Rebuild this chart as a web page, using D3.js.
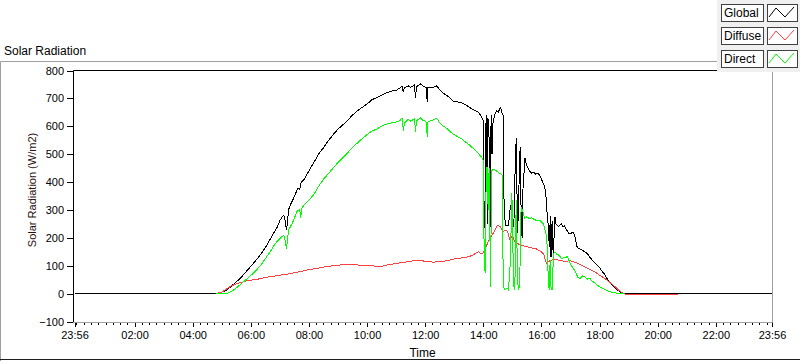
<!DOCTYPE html>
<html>
<head>
<meta charset="utf-8">
<script src="https://cdn.jsdelivr.net/npm/d3@7"></script>
<style>
  html, body { margin: 0; padding: 0; background: #fff; }
  svg { display: block; }
</style>
</head>
<body>
<div id="viz"></div>
<script>
// times are "HH:MM"; a leading "-" means the previous day
const globalData = [
  ["-23:56", 0], ["04:40", 0], ["04:50", 1], ["05:00", 5], ["05:10", 12], ["05:20", 27], ["05:30", 42],
  ["05:40", 58], ["05:50", 78], ["06:00", 98], ["06:10", 118], ["06:20", 140], ["06:30", 165],
  ["06:40", 195], ["06:50", 225], ["06:55", 240], ["07:00", 262], ["07:05", 276], ["07:08", 280],
  ["07:10", 272], ["07:12", 245], ["07:14", 228], ["07:16", 262], ["07:18", 300], ["07:20", 312],
  ["07:25", 330], ["07:30", 348], ["07:35", 370], ["07:38", 378], ["07:41", 372], ["07:43", 395],
  ["07:45", 400], ["07:50", 410], ["08:00", 440], ["08:10", 470], ["08:20", 500], ["08:30", 523],
  ["08:40", 548], ["08:50", 570], ["09:00", 590], ["09:10", 605], ["09:20", 622], ["09:30", 640],
  ["09:40", 655], ["09:50", 668], ["10:00", 680], ["10:10", 695], ["10:20", 703], ["10:30", 712],
  ["10:40", 720], ["10:50", 726], ["11:00", 728], ["11:08", 738], ["11:12", 745], ["11:15", 722],
  ["11:17", 738], ["11:25", 745], ["11:30", 740], ["11:38", 748], ["11:40", 700], ["11:42", 742],
  ["11:50", 752], ["11:55", 745], ["12:00", 740], ["12:03", 738], ["12:04", 686], ["12:05", 740],
  ["12:15", 738], ["12:24", 745], ["12:30", 730], ["12:38", 718], ["12:45", 710], ["12:52", 700],
  ["12:58", 690], ["13:05", 688], ["13:15", 684], ["13:20", 680], ["13:30", 670], ["13:35", 664],
  ["13:45", 655], ["13:50", 650], ["13:55", 638], ["13:58", 628], ["14:00", 620], ["14:01", 235],
  ["14:03", 240], ["14:05", 600], ["14:07", 640], ["14:08", 250], ["14:09", 630], ["14:11", 620],
  ["14:13", 470], ["14:15", 238], ["14:16", 640], ["14:18", 500], ["14:20", 610], ["14:23", 640],
  ["14:27", 655], ["14:31", 650], ["14:35", 668], ["14:37", 660], ["14:39", 645], ["14:41", 640],
  ["14:43", 290], ["14:46", 245], ["14:49", 242], ["14:52", 246], ["14:55", 300], ["14:58", 324],
  ["15:00", 270], ["15:03", 240], ["15:06", 470], ["15:08", 557], ["15:10", 300], ["15:11", 216],
  ["15:13", 350], ["15:16", 527], ["15:18", 300], ["15:20", 200], ["15:22", 380], ["15:26", 485],
  ["15:28", 470], ["15:31", 455], ["15:35", 440], ["15:40", 432], ["15:45", 435], ["15:48", 428],
  ["15:52", 432], ["15:56", 426], ["16:00", 410], ["16:04", 395], ["16:07", 380], ["16:09", 360],
  ["16:11", 300], ["16:13", 276], ["16:15", 200], ["16:17", 168], ["16:18", 280], ["16:19", 140],
  ["16:20", 130], ["16:22", 260], ["16:24", 150], ["16:25", 132], ["16:27", 270], ["16:28", 276],
  ["16:30", 250], ["16:33", 244], ["16:35", 240], ["16:38", 246], ["16:41", 250], ["16:44", 240],
  ["16:47", 243], ["16:50", 235], ["16:53", 226], ["16:56", 216], ["17:00", 215], ["17:05", 220],
  ["17:08", 210], ["17:10", 200], ["17:13", 170], ["17:16", 162], ["17:20", 160], ["17:25", 156],
  ["17:28", 150], ["17:32", 148], ["17:36", 140], ["17:40", 130], ["17:44", 122], ["17:48", 115],
  ["17:52", 108], ["17:56", 100], ["18:00", 94], ["18:05", 80], ["18:10", 70], ["18:15", 55],
  ["18:20", 42], ["18:25", 32], ["18:30", 24], ["18:35", 15], ["18:40", 9], ["18:45", 4],
  ["18:50", 1], ["18:55", 0], ["23:56", 0]
];

const diffuseData = [
  ["04:48", 0], ["05:00", 5], ["05:10", 17], ["05:20", 28], ["05:30", 35], ["05:40", 40],
  ["05:50", 45], ["06:00", 48], ["06:15", 52], ["06:30", 58], ["06:45", 62], ["07:00", 66],
  ["07:15", 70], ["07:30", 75], ["07:45", 80], ["08:00", 86], ["08:15", 90], ["08:30", 95],
  ["08:45", 99], ["09:00", 102], ["09:15", 104], ["09:30", 104], ["09:45", 102], ["10:00", 100],
  ["10:15", 99], ["10:30", 98], ["10:45", 104], ["11:00", 108], ["11:15", 112], ["11:30", 116],
  ["11:45", 120], ["12:00", 116], ["12:15", 113], ["12:30", 114], ["12:45", 118], ["13:00", 124],
  ["13:15", 128], ["13:30", 132], ["13:40", 140], ["13:50", 150], ["13:55", 144], ["14:00", 146],
  ["14:05", 165], ["14:10", 186], ["14:15", 200], ["14:20", 215], ["14:25", 232], ["14:30", 246],
  ["14:35", 240], ["14:40", 222], ["14:45", 226], ["14:50", 224], ["14:55", 192], ["15:00", 210],
  ["15:05", 185], ["15:10", 180], ["15:15", 176], ["15:20", 172], ["15:30", 168], ["15:40", 164],
  ["15:50", 160], ["16:00", 150], ["16:05", 140], ["16:10", 109], ["16:15", 115], ["16:20", 120],
  ["16:30", 122], ["16:40", 118], ["16:50", 116], ["17:00", 118], ["17:10", 112], ["17:20", 104],
  ["17:30", 95], ["17:40", 86], ["17:50", 78], ["18:00", 66], ["18:10", 55], ["18:20", 42],
  ["18:30", 28], ["18:40", 12], ["18:45", 5], ["18:50", 0], ["18:55", -3], ["20:41", -3]
];

const directData = [
  ["04:48", 0], ["05:10", 0], ["05:20", 8], ["05:30", 20], ["05:40", 35], ["05:50", 50],
  ["06:00", 65], ["06:10", 82], ["06:20", 100], ["06:30", 125], ["06:40", 150], ["06:50", 178],
  ["07:00", 198], ["07:05", 205], ["07:08", 210], ["07:10", 200], ["07:12", 175], ["07:14", 162],
  ["07:16", 200], ["07:18", 228], ["07:25", 250], ["07:30", 270], ["07:35", 295], ["07:41", 300],
  ["07:43", 272], ["07:45", 305], ["07:50", 318], ["08:00", 335], ["08:10", 355], ["08:20", 385],
  ["08:30", 410], ["08:40", 430], ["08:50", 450], ["09:00", 470], ["09:10", 488], ["09:20", 505],
  ["09:30", 525], ["09:40", 540], ["09:50", 556], ["10:00", 570], ["10:10", 583], ["10:20", 590],
  ["10:30", 600], ["10:40", 608], ["10:50", 612], ["11:00", 615], ["11:08", 620], ["11:12", 630],
  ["11:15", 585], ["11:17", 612], ["11:25", 625], ["11:30", 618], ["11:38", 628], ["11:40", 580],
  ["11:42", 620], ["11:50", 630], ["11:55", 622], ["12:00", 618], ["12:03", 612], ["12:04", 562],
  ["12:05", 615], ["12:15", 622], ["12:24", 628], ["12:30", 612], ["12:38", 600], ["12:45", 592],
  ["12:52", 580], ["12:58", 572], ["13:05", 565], ["13:15", 555], ["13:20", 548], ["13:30", 535],
  ["13:35", 527], ["13:45", 512], ["13:50", 502], ["13:55", 492], ["14:00", 478], ["14:02", 85],
  ["14:04", 80], ["14:06", 440], ["14:08", 455], ["14:10", 300], ["14:12", 450], ["14:15", 25],
  ["14:17", 440], ["14:20", 445], ["14:25", 443], ["14:30", 436], ["14:35", 430], ["14:39", 425],
  ["14:41", 60], ["14:43", 13], ["14:46", 15], ["14:49", 20], ["14:52", 13], ["14:56", 120],
  ["14:59", 360], ["15:01", 170], ["15:03", 25], ["15:05", 13], ["15:08", 335], ["15:10", 120],
  ["15:12", 13], ["15:15", 25], ["15:18", 311], ["15:21", 300], ["15:25", 270], ["15:30", 276],
  ["15:35", 268], ["15:40", 272], ["15:45", 266], ["15:50", 262], ["15:55", 264], ["16:00", 258],
  ["16:04", 250], ["16:08", 222], ["16:11", 204], ["16:14", 60], ["16:16", 13], ["16:18", 120],
  ["16:20", 13], ["16:22", 15], ["16:25", 144], ["16:28", 150], ["16:32", 140], ["16:36", 138],
  ["16:42", 125], ["16:48", 130], ["16:54", 132], ["17:00", 105], ["17:05", 92], ["17:10", 80],
  ["17:15", 58], ["17:20", 55], ["17:25", 64], ["17:30", 60], ["17:35", 52], ["17:40", 54],
  ["17:45", 45], ["17:50", 38], ["17:55", 30], ["18:00", 25], ["18:10", 15], ["18:20", 8],
  ["18:30", 3], ["18:40", 1], ["18:50", 0]
];

const seriesNames = ["Global", "Diffuse", "Direct"];
const seriesColors = ["#000000", "#ff4040", "#00ff00"];
const yTicks = [-100, 0, 100, 200, 300, 400, 500, 600, 700, 800];
const xTicks = ["-23:56", "02:00", "04:00", "06:00", "08:00", "10:00", "12:00",
                "14:00", "16:00", "18:00", "20:00", "22:00", "23:56"];

function toMinutes(s) {
  const prev = s.startsWith("-");
  const [h, m] = s.replace("-", "").split(":").map(Number);
  return h * 60 + m - (prev ? 1440 : 0);
}

const width = 800;
const height = 361;
const plot = { left: 73, right: 772, top: 70, bottom: 322 };
const font = "'Liberation Sans', Arial, sans-serif";

const svg = d3.select("#viz")
  .append("svg")
  .attr("width", width)
  .attr("height", height)
  .style("font-family", font);

svg.append("rect").attr("width", width).attr("height", height).attr("fill", "#fff");

const x = d3.scaleLinear()
  .domain([toMinutes(xTicks[0]), toMinutes(xTicks[xTicks.length - 1])])
  .range([74.5, plot.right]);

const y = d3.scaleLinear()
  .domain([d3.min(yTicks), d3.max(yTicks)])
  .range([321.5, 70.5]);

// outer frame
svg.append("path")
  .attr("d", `M0.5,361 V61.5 H718`)
  .attr("fill", "none")
  .attr("stroke", "#a0a0a0");
svg.append("line")
  .attr("x1", 0).attr("x2", width)
  .attr("y1", 359.5).attr("y2", 359.5)
  .attr("stroke", "#202020");

svg.append("text")
  .attr("x", 4)
  .attr("y", 55)
  .attr("font-size", 12)
  .attr("fill", "#000")
  .text("Solar Radiation");

// axes
const yAxisG = svg.append("g")
  .attr("transform", `translate(${plot.left},0)`)
  .call(d3.axisLeft(y).tickValues(yTicks).tickSize(6).tickPadding(3));

const xAxisG = svg.append("g")
  .attr("transform", `translate(0,${plot.bottom})`)
  .call(d3.axisBottom(x)
    .tickValues(xTicks.map(toMinutes))
    .tickFormat((d, i) => xTicks[i].replace("-", ""))
    .tickSize(5)
    .tickPadding(4));

const majors = new Set(xTicks.map(toMinutes));
const minorG = svg.append("g")
  .attr("transform", `translate(0,${plot.bottom})`)
  .call(d3.axisBottom(x)
    .tickValues(d3.range(0, 1440, 15).filter(d => !majors.has(d)))
    .tickFormat("")
    .tickSize(3));

svg.selectAll(".domain").remove();
svg.selectAll(".tick line").attr("stroke", "#000").attr("shape-rendering", "crispEdges");
svg.selectAll(".tick text")
  .attr("font-family", font)
  .attr("font-size", 11)
  .attr("fill", "#000");

// plot borders (inset look)
svg.append("path")
  .attr("d", `M${plot.left + 0.5},${plot.bottom} V${plot.top + 0.5} H${plot.right}`)
  .attr("fill", "none")
  .attr("stroke", "#000");
svg.append("path")
  .attr("d", `M${plot.left},${plot.bottom + 0.5} H${plot.right + 0.5} V${plot.top}`)
  .attr("fill", "none")
  .attr("stroke", "#a0a0a0");

svg.append("text")
  .attr("transform", `translate(36,190) rotate(-90)`)
  .attr("text-anchor", "middle")
  .attr("font-size", 11)
  .attr("fill", "#2a1010")
  .text("Solar Radiation (W/m2)");

svg.append("text")
  .attr("x", (plot.left + plot.right) / 2)
  .attr("y", 357)
  .attr("text-anchor", "middle")
  .attr("font-size", 12)
  .attr("fill", "#000")
  .text("Time");

// data
svg.append("defs").append("clipPath").attr("id", "clip")
  .append("rect")
  .attr("x", plot.left + 1).attr("y", plot.top + 1)
  .attr("width", plot.right - plot.left - 1)
  .attr("height", plot.bottom - plot.top - 1);

const line = d3.line()
  .x(d => x(toMinutes(d[0])))
  .y(d => y(d[1]));

const body = svg.append("g").attr("clip-path", "url(#clip)");
[globalData, diffuseData, directData].forEach((data, i) => {
  body.append("path")
    .attr("d", line(data))
    .attr("fill", "none")
    .attr("stroke", seriesColors[i])
    .attr("stroke-width", 1)
    .attr("shape-rendering", "crispEdges");
});

// legend panel
const legend = svg.append("g");
legend.append("rect")
  .attr("x", 717).attr("y", 0)
  .attr("width", 83).attr("height", 72)
  .attr("fill", "#f0f0f0");

seriesNames.forEach((name, i) => {
  const top = 4 + i * 23;
  legend.append("rect")
    .attr("x", 721.5).attr("y", top + 0.5)
    .attr("width", 42).attr("height", 17)
    .attr("fill", "#fff")
    .attr("stroke", "#404040");
  legend.append("text")
    .attr("x", 724)
    .attr("y", top + 13)
    .attr("font-size", 12)
    .attr("fill", "#000")
    .text(name);
  legend.append("rect")
    .attr("x", 767.5).attr("y", top + 0.5)
    .attr("width", 30).attr("height", 17)
    .attr("fill", "#fff")
    .attr("stroke", "#404040");
  legend.append("path")
    .attr("d", `M769,${top + 13} L776,${top + 4} L785,${top + 13} L794,${top + 3}`)
    .attr("fill", "none")
    .attr("stroke", seriesColors[i]);
});
</script>
</body>
</html>
